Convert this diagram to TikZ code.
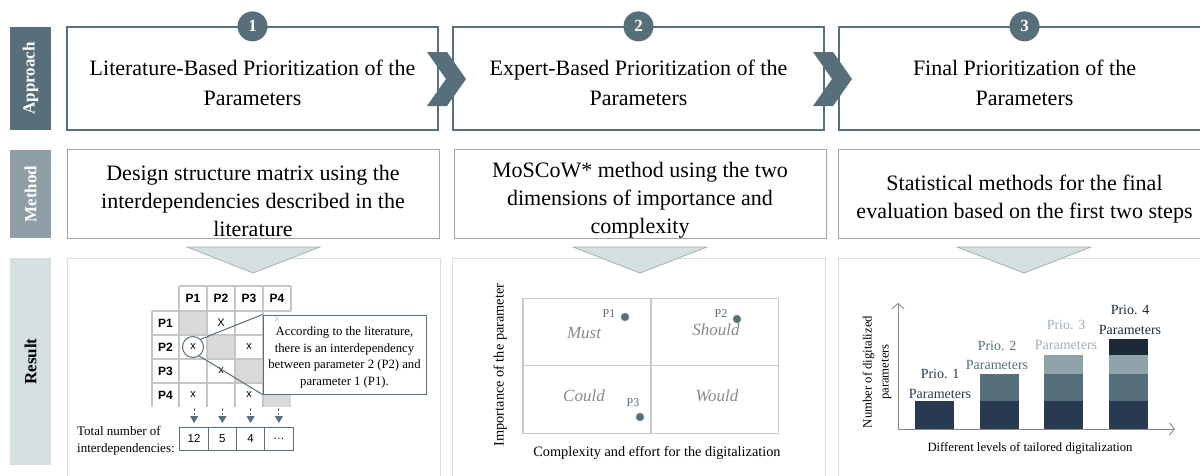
\documentclass[tikz,border=0pt]{standalone}
\usepackage{fontspec}
\setmainfont{Liberation Serif}
\setsansfont{Liberation Sans}
\usetikzlibrary{arrows.meta,calc}
\definecolor{slate}{HTML}{566F7B}
\definecolor{methc}{HTML}{8E9EA6}
\definecolor{methbd}{HTML}{9AA8AE}
\definecolor{resc}{HTML}{D4DFE0}
\definecolor{resbd}{HTML}{D6E0E0}
\definecolor{tribd}{HTML}{A9B0B3}
\definecolor{navy}{HTML}{273A50}
\definecolor{navydark}{HTML}{1C2A38}
\definecolor{lightslate}{HTML}{8FA1A9}
\definecolor{lightlbl}{HTML}{9FB1B8}
\definecolor{gridc}{HTML}{C6C6C6}
\definecolor{diagc}{HTML}{D9D9D9}
\definecolor{quadc}{HTML}{C8C8C8}
\definecolor{quadtxt}{HTML}{8A8A8A}
\definecolor{axisc}{HTML}{8A8A8A}
\begin{document}
\begin{tikzpicture}[x=1pt,y=-1pt,
  sidebar/.style={rotate=90,inner sep=0pt,font=\fontsize{17}{20}\selectfont\bfseries},
  appbox/.style={draw=slate,line width=1.3pt,fill=white,minimum width=371pt,minimum height=103pt,inner sep=0pt},
  apptxt/.style={inner sep=0pt,align=center,font=\fontsize{22}{30}\selectfont},
  methbox/.style={draw=methbd,line width=1pt,fill=white,minimum width=372pt,minimum height=89pt,inner sep=0pt},
  methtxt/.style={inner sep=0pt,align=center,font=\fontsize{22}{28}\selectfont},
  resbox/.style={draw=resbd,line width=1pt,fill=white,minimum width=373pt,minimum height=222pt,inner sep=0pt},
  numc/.style={circle,fill=slate,text=white,minimum size=30pt,inner sep=0pt,font=\fontsize{17}{17}\selectfont\bfseries},
  downtri/.style={fill=resc,draw=tribd,line width=0.8pt},
  hdr/.style={inner sep=0pt,font=\sffamily\bfseries\fontsize{12}{12}\selectfont},
  entry/.style={inner sep=0pt,font=\sffamily\fontsize{11}{11}\selectfont},
  gridline/.style={draw=gridc,line width=1.5pt},
  dasharrow/.style={draw=slate,line width=1pt,dash pattern=on 2.5pt off 2pt,
    -{Triangle[length=7pt,width=8pt]}},
  tot/.style={draw=slate,line width=1pt,fill=white,minimum width=28.25pt,minimum height=23pt,
    inner sep=0pt,font=\sffamily\fontsize{11.5}{11.5}\selectfont},
  quad/.style={draw=quadc,line width=1.2pt,minimum width=128pt,minimum height=67.5pt,inner sep=0pt},
  quadtext/.style={inner sep=0pt,text=quadtxt,font=\itshape\fontsize{17}{17}\selectfont},
  dot/.style={circle,fill=slate,draw=slate!70,line width=0.5pt,minimum size=8pt,inner sep=0pt},
  plbl/.style={inner sep=0pt,text=slate,font=\fontsize{12}{12}\selectfont},
  axlbl/.style={inner sep=0pt,align=center,font=\fontsize{14.3}{17}\selectfont},
  barlbl/.style={inner sep=0pt,align=center,font=\fontsize{14}{19.5}\selectfont},
  smalllbl/.style={inner sep=0pt,align=center,font=\fontsize{12.7}{17}\selectfont},
  axisarrow/.style={draw=axisc,line width=0.9pt,-{Straight Barb[length=5pt,width=12pt]}}
]
\useasboundingbox (0,0) rectangle (1200,475);
\clip (0,0) rectangle (1200,475);

% side labels
\node[sidebar,fill=slate,text=white,minimum width=103pt,minimum height=41pt] (sApp) at (30.5,78.5) {Approach};
\node[sidebar,fill=methc,text=white,minimum width=88pt,minimum height=41pt] (sMet) at (30.5,194) {Method};
\node[sidebar,fill=resc,text=black,minimum width=207pt,minimum height=41pt] (sRes) at (30.5,361.5) {Result};

% approach boxes
\node[appbox] (a1) at (252.5,78.5) {};
\node[appbox] (a2) at (638.5,78.5) {};
\node[appbox] (a3) at (1024.5,78.5) {};
\node[apptxt] (a1t) at (252.5,83) {Literature-Based Prioritization of the\\Parameters};
\node[apptxt] (a2t) at (638.5,83) {Expert-Based Prioritization of the\\Parameters};
\node[apptxt] (a3t) at (1024.5,83) {Final Prioritization of the\\Parameters};
\node[numc] (n1) at (a1.north) {1};
\node[numc] (n2) at (a2.north) {2};
\node[numc] (n3) at (a3.north) {3};

% chevrons
\fill[slate] (427,52) -- (447,52) -- (466,79) -- (447,106) -- (427,106) -- (446,79) -- cycle;
\fill[slate] (813,52) -- (833,52) -- (852,79) -- (833,106) -- (813,106) -- (832,79) -- cycle;

% method boxes
\node[methbox] (m1) at (253,193.5) {};
\node[methbox] (m2) at (640,193.5) {};
\node[methbox] (m3) at (1024.5,193.5) {};
\node[methtxt] (m1t) at (253,200.5) {Design structure matrix using the\\interdependencies described in the\\literature};
\node[methtxt] (m2t) at (640,200.5) {MoSCoW* method using the two\\dimensions of importance and\\complexity};
\node[methtxt] (m3t) at (1024.5,199.5) {Statistical methods for the final\\evaluation based on the first two steps};

% result boxes
\node[resbox] (r1) at (253.5,369) {};
\node[resbox] (r2) at (638.5,369) {};
\node[resbox] (r3) at (1024.5,369) {};

% down triangles
\filldraw[downtri] (187,247) -- (320,247) -- (253,273) -- cycle;
\filldraw[downtri] (573,247) -- (707,247) -- (640,273) -- cycle;
\filldraw[downtri] (957,247) -- (1091,247) -- (1024,273) -- cycle;

% ---------- design structure matrix ----------
\fill[diagc] (179,311) rectangle (207,335);
\fill[diagc] (207,335) rectangle (235,359);
\fill[diagc] (235,359) rectangle (263,383);
\fill[diagc] (263,383) rectangle (291,407);
\draw[gridline] (179,286) -- (291,286);
\foreach \yy in {311,335,359,383} \draw[gridline] (152,\yy) -- (291,\yy);
\draw[gridline] (152,311) -- (152,407);
\foreach \xx in {179,207,235,263} \draw[gridline] (\xx,286) -- (\xx,407);
\draw[gridline] (291,286) -- (291,311);

\node[hdr] (hc1) at (193,298.5) {P1};
\node[hdr] (hc2) at (221,298.5) {P2};
\node[hdr] (hc3) at (249,298.5) {P3};
\node[hdr] (hc4) at (277,298.5) {P4};
\node[hdr] (hr1) at (165.5,323) {P1};
\node[hdr] (hr2) at (165.5,347) {P2};
\node[hdr] (hr3) at (165.5,371) {P3};
\node[hdr] (hr4) at (165.5,395) {P4};

\node[entry] (e12) at (221,323) {X};
\node[entry] (e21) at (193,347) {x};
\node[entry] (e23) at (249,347) {x};
\node[entry] (e32) at (221,371) {x};
\node[entry] (e41) at (193,395) {x};
\node[entry] (e43) at (249,395) {x};

\node[circle,draw=slate,line width=1pt,minimum size=21pt,inner sep=0pt] (cc) at (193,347) {};
\node[draw=slate,line width=1pt,fill=white,minimum width=163pt,minimum height=79pt,inner sep=0pt] (co) at (344.5,354.5) {};
\node[inner sep=0pt,align=center,font=\fontsize{12.7}{16.5}\selectfont] (cot) at (344.5,357.5)
  {According to the literature,\\there is an interdependency\\between parameter 2 (P2) and\\parameter 1 (P1).};
\node[entry,text=gridc,font=\sffamily\fontsize{9}{9}\selectfont] (e14) at (277,319.5) {x};
\draw[slate,line width=1pt] (cc.45) -- (co.north west);
\draw[slate,line width=1pt] (cc.-55) -- (co.south west);

% totals
\node[tot] (t1) at (194.1,438.5) {12};
\node[tot] (t2) at (222.4,438.5) {5};
\node[tot] (t3) at (250.6,438.5) {4};
\node[tot] (t4) at (278.9,438.5) {\dots};
\coordinate (ar1) at (194.1,408);
\coordinate (ar2) at (222.4,408);
\coordinate (ar3) at (250.6,408);
\coordinate (ar4) at (278.9,408);
\foreach \i in {1,...,4} \draw[dasharrow,shorten >=3.5pt] (ar\i) -- (t\i.north);
\node[inner sep=0pt,anchor=west,align=left,font=\fontsize{13}{17.5}\selectfont] (tl) at (77,441)
  {Total number of\\interdependencies:};

% ---------- MoSCoW ----------
\node[quad] (qM) at (587,332) {};
\node[quad] (qS) at (714.5,332) {};
\node[quad] (qC) at (587,399.5) {};
\node[quad] (qW) at (714.5,399.5) {};
\node[quadtext] (qMt) at (584,333) {Must};
\node[quadtext] (qSt) at (716,330) {Should};
\node[quadtext] (qCt) at (584,396) {Could};
\node[quadtext] (qWt) at (717,396) {Would};
\node[dot] (d1) at (625,317) {};
\node[dot] (d2) at (737,319) {};
\node[dot] (d3) at (640,417) {};
\node[plbl] (p1) at (609,314) {P1};
\node[plbl] (p2) at (721,314) {P2};
\node[plbl] (p3) at (633,403) {P3};
\node[axlbl,rotate=90] (ylab) at (500,365) {Importance of the parameter};
\node[axlbl] (xlab) at (657,453) {Complexity and effort for the digitalization};

% ---------- bar chart ----------
\coordinate (org) at (898,429);
\coordinate (ytip) at (898,303);
\coordinate (xtip) at (1175,429);
\draw[axisarrow] (org) -- (ytip);
\draw[axisarrow] (org) -- (xtip);
\fill[navy] (915,401) rectangle (954,429);
\fill[navy] (980,401) rectangle (1019,429);
\fill[slate] (980,374) rectangle (1019,401);
\fill[navy] (1044,401) rectangle (1083,429);
\fill[slate] (1044,374) rectangle (1083,401);
\fill[lightslate] (1044,355) rectangle (1083,374);
\fill[navy] (1109,401) rectangle (1148,429);
\fill[slate] (1109,374) rectangle (1148,401);
\fill[lightslate] (1109,355) rectangle (1148,374);
\fill[navydark] (1109,339) rectangle (1148,355);
\node[barlbl,text=navy] (b1) at (940,384) {Prio. 1\\Parameters};
\node[barlbl,text=slate] (b2) at (997,355.5) {Prio. 2\\Parameters};
\node[barlbl,text=lightlbl] (b3) at (1066,335) {Prio. 3\\Parameters};
\node[barlbl,text=navydark] (b4) at (1130,320) {Prio. 4\\Parameters};
\node[smalllbl,rotate=90] (bylab) at (877,372) {Number of digitalized\\parameters};
\node[smalllbl] (bxlab) at (1030,448) {Different levels of tailored digitalization};
\end{tikzpicture}
\end{document}
